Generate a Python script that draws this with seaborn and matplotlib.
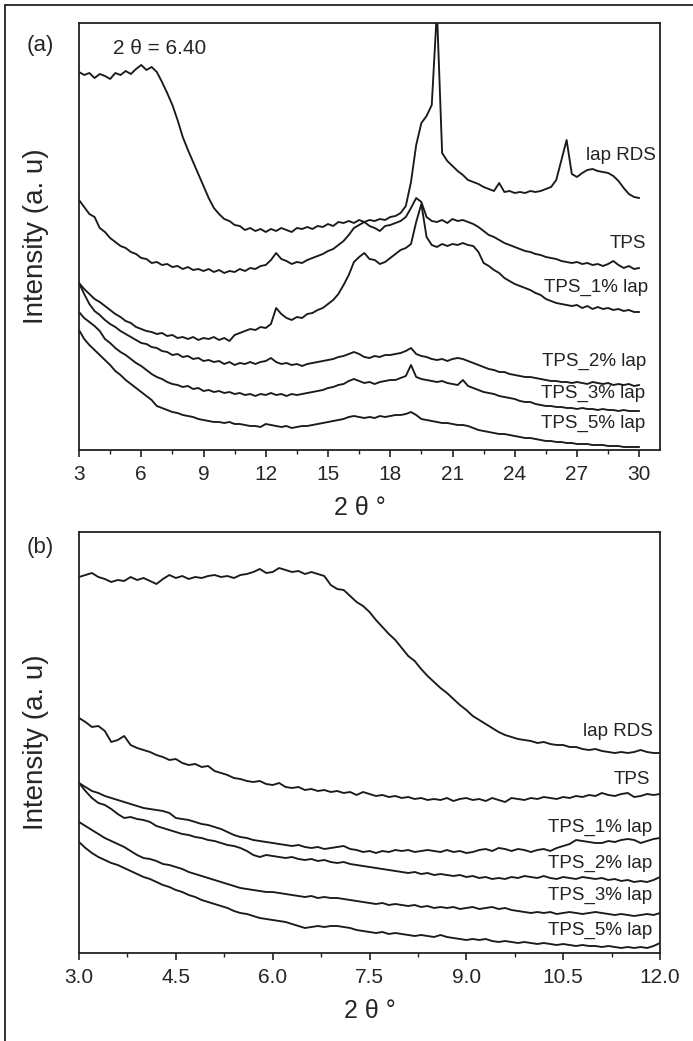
import matplotlib
matplotlib.use("Agg")
import matplotlib.pyplot as plt
from matplotlib.lines import Line2D
from matplotlib.ticker import MultipleLocator, FormatStrFormatter
import numpy as np
import seaborn as sns

# ── Data: panel (a), 2θ = 3 … 30 in 0.25° steps ───────────────────────────
THETA_A = np.linspace(3.0, 30.0, 109)

LAP_RDS_A = [
    378, 375, 377, 372,  376, 374, 371, 377,  375, 379, 376, 381,
    385, 380, 383, 378,  368, 357, 345, 330,  313, 300, 288, 276,
    264, 252, 242, 236,  231, 229, 225, 224,  220, 222, 219, 221,
    218, 221, 219, 222,  220, 218, 222, 221,  223, 221, 224, 223,
    226, 224, 228, 227,  229, 227, 230, 228,  230, 229, 231, 230,
    233, 234, 237, 244,  268, 305, 327, 334,  345, 440, 297, 289,
    284, 279, 275, 270,  268, 266, 263, 261,  259, 267, 258, 259,
    257, 258, 257, 259,  258, 259, 261, 263,  270, 290, 310, 276,
    273, 277, 280, 281,  279, 278, 277, 274,  269, 262, 256, 253,
    252,
]
TPS_A = [
    250, 243, 236, 233,  222, 218, 212, 208,  204, 202, 198, 196,
    192, 191, 187, 188,  185, 186, 183, 184,  181, 183, 180, 181,
    179, 181, 178, 180,  177, 179, 178, 181,  179, 182, 181, 184,
    185, 190, 197, 191,  189, 186, 188, 187,  190, 192, 194, 196,
    199, 201, 205, 209,  215, 222, 225, 228,  224, 222, 219, 224,
    225, 227, 229, 233,  242, 252, 248, 233,  229, 228, 230, 227,
    231, 229, 230, 228,  226, 223, 219, 215,  213, 210, 207, 205,
    203, 201, 199, 198,  196, 195, 193, 192,  191, 189, 188, 187,
    188, 186, 187, 185,  186, 184, 186, 189,  185, 182, 184, 181,
    182,
]
TPS_1_A = [
    167, 161, 156, 151,  148, 144, 140, 136,  133, 129, 127, 123,
    121, 119, 118, 116,  117, 114, 115, 112,  113, 111, 113, 110,
    112, 111, 113, 110,  112, 109, 115, 117,  119, 121, 120, 123,
    122, 126, 142, 136,  132, 130, 133, 132,  136, 137, 140, 142,
    146, 150, 156, 165,  175, 188, 193, 197,  191, 190, 186, 188,
    192, 196, 200, 202,  206, 228, 246, 213,  205, 203, 206, 204,
    206, 205, 207, 205,  204, 198, 187, 184,  180, 177, 172, 169,
    166, 164, 162, 160,  157, 155, 151, 149,  147, 146, 145, 144,
    145, 142, 144, 141,  143, 141, 142, 140,  141, 139, 140, 138,
    138,
]
TPS_2_A = [
    167, 156, 146, 139,  135, 130, 126, 123,  119, 116, 113, 110,
    107, 106, 103, 102,   99,  98,  95,  96,   93,  94,  91,  92,
     89,  90,  88,  89,   86,  88,  85,  87,   86,  88,  86,  88,
     89,  92,  88,  86,   87,  85,  86,  84,   86,  87,  88,  89,
     90,  91,  93,  94,   96,  98,  96,  93,   92,  94,  93,  95,
     95,  96,  97,  99,  102,  96,  94,  93,   91,  90,  91,  89,
     91,  92,  91,  89,   87,  85,  83,  81,   80,  78,  78,  76,
     75,  74,  73,  73,   72,  71,  70,  69,   69,  68,  68,  67,
     68,  67,  66,  68,   67,  66,  67,  65,   66,  65,  66,  64,
     65,
]
TPS_3_A = [
    138, 132, 128, 124,  119, 111, 107, 102,   98,  95,  91,  87,
     84,  80,  76,  73,   71,  68,  66,  65,   63,  64,  61,  62,
     59,  60,  58,  59,   57,  58,  56,  57,   55,  56,  54,  56,
     55,  57,  55,  56,   54,  56,  55,  56,   57,  58,  59,  60,
     62,  63,  65,  66,   69,  71,  69,  67,   68,  66,  68,  69,
     70,  70,  72,  74,   85,  73,  71,  70,   69,  68,  69,  67,
     66,  65,  70,  64,   62,  60,  58,  57,   56,  54,  53,  52,
     51,  49,  48,  48,   46,  45,  44,  44,   43,  43,  42,  42,
     41,  42,  41,  41,   40,  41,  40,  40,   39,  40,  39,  39,
     39,
]
TPS_5_A = [
    120, 111, 105, 100,   95,  90,  85,  79,   75,  70,  66,  62,
     58,  54,  50,  44,   42,  40,  38,  37,   35,  34,  33,  31,
     30,  29,  28,  28,   27,  28,  26,  26,   25,  24,  24,  23,
     26,  25,  24,  23,   24,  22,  23,  24,   24,  25,  26,  27,
     28,  29,  30,  31,   33,  34,  33,  32,   33,  32,  34,  33,
     34,  35,  35,  36,   38,  35,  31,  30,   29,  28,  27,  27,
     26,  25,  25,  24,   22,  20,  19,  18,   17,  16,  16,  15,
     14,  13,  12,  12,   11,  10,   9,   9,    8,   8,   7,   7,
      6,   6,   6,   5,    5,   5,   4,   4,    4,   3,   3,   3,
      3,
]

# ── Data: panel (b), 2θ = 3 … 12 in 0.1° steps ────────────────────────────
THETA_B = np.linspace(3.0, 12.0, 91)

LAP_RDS_B = [
    376, 378, 380, 376, 374, 371, 373, 372, 376, 373,
    375, 372, 369, 374, 378, 375, 377, 374, 376, 375,
    377, 378, 376, 377, 375, 378, 379, 381, 384, 380,
    381, 385, 383, 381, 382, 379, 381, 379, 377, 368,
    364, 363, 357, 351, 347, 341, 333, 326, 319, 313,
    305, 297, 292, 284, 277, 271, 265, 260, 254, 248,
    243, 237, 233, 229, 225, 221, 218, 216, 214, 213,
    212, 210, 211, 209, 208, 208, 206, 206, 204, 203,
    204, 202, 201, 200, 201, 200, 201, 203, 201, 200,
    200,
]
TPS_B = [
    235, 231, 226, 227, 222, 211, 213, 217, 208, 205,
    203, 201, 198, 196, 193, 194, 190, 188, 189, 186,
    187, 182, 180, 178, 175, 174, 172, 171, 172, 169,
    168, 170, 166, 165, 166, 163, 164, 162, 163, 161,
    162, 160, 161, 158, 161, 159, 157, 158, 156, 157,
    155, 156, 154, 155, 153, 154, 153, 155, 152, 154,
    155, 153, 154, 152, 155, 153, 151, 155, 154, 153,
    155, 154, 156, 155, 154, 156, 155, 157, 156, 158,
    157, 160, 158, 157, 159, 160, 156, 157, 159, 158,
    159,
]
TPS_1_B = [
    170, 166, 162, 160, 157, 155, 153, 151, 149, 147,
    145, 144, 143, 142, 140, 135, 134, 133, 131, 129,
    128, 126, 124, 121, 118, 116, 115, 113, 112, 111,
    110, 109, 108, 107, 108, 106, 105, 106, 104, 105,
    106, 107, 104, 103, 101, 102, 100, 102, 101, 103,
    102, 103, 101, 102, 103, 102, 101, 103, 101, 102,
    100, 101, 103, 104, 102, 105, 104, 102, 104, 103,
    101, 103, 104, 102, 105, 107, 109, 113, 112, 111,
    110, 110, 112, 111, 113, 114, 113, 110, 112, 114,
    115,
]
TPS_2_B = [
    170, 162, 155, 150, 148, 144, 139, 135, 136, 134,
    133, 131, 127, 125, 123, 121, 119, 118, 116, 115,
    113, 112, 110, 108, 107, 105, 102,  98,  96,  98,
     97,  96,  95,  96,  94,  93,  94,  92,  93,  91,
     90,  91,  89,  88,  87,  86,  85,  84,  83,  82,
     81,  80,  81,  79,  80,  78,  79,  78,  77,  78,
     76,  77,  75,  76,  74,  75,  74,  76,  75,  77,
     76,  75,  77,  75,  74,  76,  75,  74,  76,  75,
     74,  75,  73,  74,  72,  73,  71,  72,  71,  73,
     76,
]
TPS_3_B = [
    131, 127, 123, 119, 115, 112, 109, 106, 102,  98,
     95,  94,  92,  89,  88,  86,  84,  81,  79,  77,
     75,  73,  71,  69,  67,  65,  64,  63,  62,  61,
     61,  60,  59,  58,  57,  56,  57,  55,  56,  55,
     55,  54,  53,  52,  51,  50,  49,  50,  48,  49,
     48,  47,  48,  46,  47,  45,  46,  45,  46,  44,
     45,  46,  44,  45,  46,  44,  45,  43,  42,  41,
     40,  41,  40,  41,  39,  40,  41,  40,  39,  40,
     41,  40,  39,  38,  39,  38,  37,  38,  39,  38,
     40,
]
TPS_5_B = [
    111, 105, 100,  96,  93,  90,  88,  85,  82,  79,
     76,  74,  71,  68,  66,  63,  61,  58,  56,  53,
     51,  49,  47,  45,  42,  40,  39,  37,  35,  34,
     33,  32,  31,  29,  27,  25,  26,  27,  26,  27,
     27,  26,  25,  23,  22,  21,  20,  21,  19,  20,
     19,  18,  17,  18,  17,  16,  18,  16,  15,  14,
     13,  14,  13,  14,  12,  11,  12,  11,  10,  11,
     10,   9,  10,   9,   8,   9,   8,   7,   8,   7,
      7,   6,   7,   6,   5,   6,   5,   6,   5,   7,
     10,
]

LABELS = ["lap RDS", "TPS", "TPS_1% lap", "TPS_2% lap", "TPS_3% lap", "TPS_5% lap"]

# ── Style ──────────────────────────────────────────────────────────────────
sns.set_theme(style="ticks")
plt.rcParams["font.family"] = ["Liberation Sans", "DejaVu Sans"]
LINE_C = "#1a1a1a"

W, H = 693, 1041
fig = plt.figure(figsize=(W / 100, H / 100), dpi=100)


def px_box(l, t, r, b):
    return [l / W, 1 - b / H, (r - l) / W, (b - t) / H]


def fig_text(px, py, s, **kw):
    fig.text(px / W, 1 - py / H, s, transform=fig.transFigure, **kw)


panels = [
    dict(box=(79, 23, 660, 450), theta=THETA_A, xlim=(3, 31), ylim=(0, 427),
         major=3, minor=1.5, fmt="%d", xlab_x=0.484,
         series=[LAP_RDS_A, TPS_A, TPS_1_A, TPS_2_A, TPS_3_A, TPS_5_A]),
    dict(box=(79, 532, 660, 953), theta=THETA_B, xlim=(3, 12), ylim=(0, 421),
         major=1.5, minor=0.75, fmt="%.1f", xlab_x=0.5,
         series=[LAP_RDS_B, TPS_B, TPS_1_B, TPS_2_B, TPS_3_B, TPS_5_B]),
]

for p in panels:
    ax = fig.add_axes(px_box(*p["box"]))
    for vals in p["series"]:
        assert len(vals) == len(p["theta"])
        sns.lineplot(x=p["theta"], y=vals, ax=ax, color=LINE_C,
                     linewidth=1.35, estimator=None, sort=False)
    ax.set_xlim(*p["xlim"])
    ax.set_ylim(*p["ylim"])
    ax.set_yticks([])
    ax.xaxis.set_major_locator(MultipleLocator(p["major"]))
    ax.xaxis.set_minor_locator(MultipleLocator(p["minor"]))
    ax.xaxis.set_major_formatter(FormatStrFormatter(p["fmt"]))
    ax.tick_params(axis="x", which="major", direction="out", length=5,
                   width=1.2, labelsize=15, pad=6, color="#222")
    ax.tick_params(axis="x", which="minor", direction="out", length=3,
                   width=1.0, color="#222")
    for sp in ax.spines.values():
        sp.set_linewidth(1.3)
        sp.set_color("#222")
    ax.set_xlabel("2 θ °", fontsize=18, va="center")
    ax.xaxis.set_label_coords(p["xlab_x"], -58 / (p["box"][3] - p["box"][1]))
    ax.set_ylabel("Intensity (a. u)", fontsize=20, va="center")
    ax.yaxis.set_label_coords(-43 / 581, 0.5)

# ── Annotations ────────────────────────────────────────────────────────────
fig_text(40, 45, "(a)", fontsize=16, ha="center", va="center")
fig_text(40, 547, "(b)", fontsize=16, ha="center", va="center")
fig_text(160, 48, "2 θ = 6.40", fontsize=15, ha="center", va="center")

label_pos_a = [(656, 155), (646, 243), (648, 287), (646, 361), (645, 393), (645, 423)]
label_pos_b = [(653, 732), (650, 780), (652, 827), (652, 863), (652, 895), (652, 930)]
for name, (px, py) in zip(LABELS, label_pos_a):
    fig_text(px, py, name, fontsize=13.5, ha="right", va="center", color="#222")
for name, (px, py) in zip(LABELS, label_pos_b):
    fig_text(px, py, name, fontsize=13.5, ha="right", va="center", color="#222")

# outer frame of the original figure (top and left edges)
fig.add_artist(Line2D([5 / W, 5 / W], [0, 1 - 5 / H], transform=fig.transFigure,
                      color="#222", lw=1.3))
fig.add_artist(Line2D([5 / W, 1], [1 - 5 / H, 1 - 5 / H], transform=fig.transFigure,
                      color="#222", lw=1.3))

fig.savefig("out.png", dpi=100)
plt.close(fig)
